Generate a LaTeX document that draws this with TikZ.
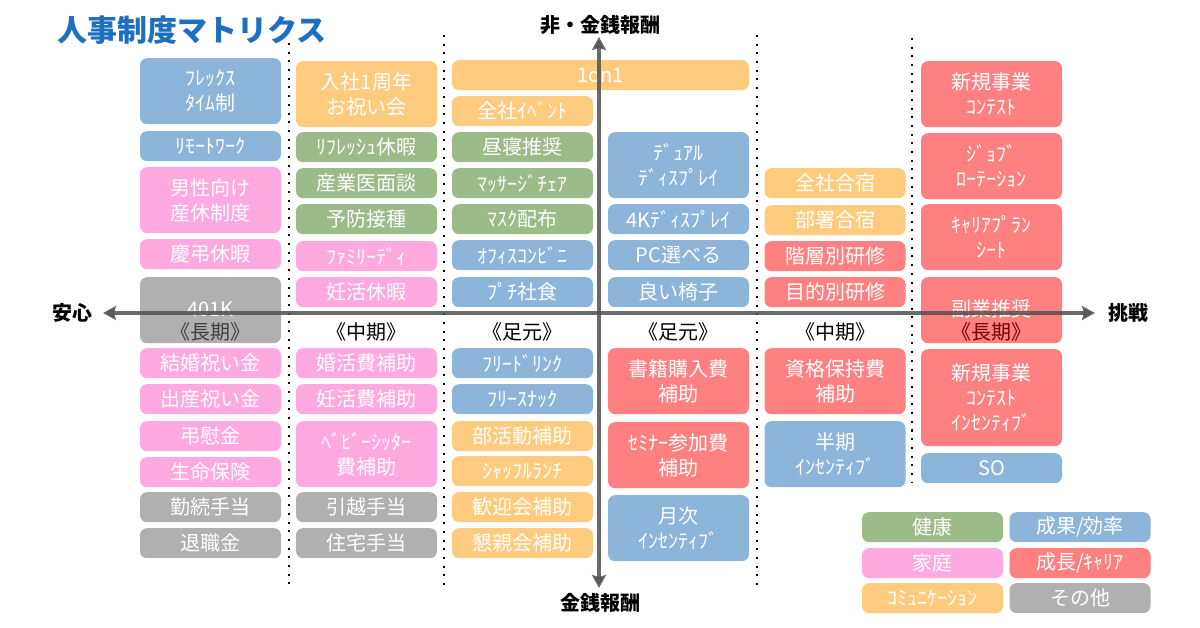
\documentclass[tikz,border=0pt]{standalone}
\usepackage{fontspec}
\setmainfont{Noto Sans CJK JP}
\usetikzlibrary{arrows.meta}

\definecolor{kenkoC}{HTML}{9BBB89}
\definecolor{kateiC}{HTML}{FFA9E1}
\definecolor{komyuC}{HTML}{FFCB7E}
\definecolor{seikaC}{HTML}{8DB5DA}
\definecolor{seichoC}{HTML}{FF8080}
\definecolor{sonotaC}{HTML}{B0B0B0}
\definecolor{axisC}{HTML}{505050}
\definecolor{titleC}{HTML}{1F6FBF}

\begin{document}
\begin{tikzpicture}[x=1pt, y=-1pt,
    box/.style={anchor=north, rounded corners=7pt, minimum width=141pt,
                minimum height=30pt, inner sep=0pt, align=center, text=white,
                font=\fontsize{20}{25}\selectfont},
    tall/.style={minimum height=66pt},
    taller/.style={minimum height=97pt},
    kenko/.style={fill=kenkoC},
    katei/.style={fill=kateiC},
    komyu/.style={fill=komyuC},
    seika/.style={fill=seikaC},
    seicho/.style={fill=seichoC},
    sonota/.style={fill=sonotaC},
    period/.style={font=\fontsize{20}{24}\selectfont, text=black},
    axlabel/.style={font=\fontsize{20}{24}\selectfont\bfseries, text=black},
    divider/.style={line width=2pt, dash pattern=on 2pt off 6.7pt},
    axis/.style={line width=3.5pt, draw=axisC, draw opacity=0.85, fill opacity=0.85,
                 {Stealth[length=13pt,width=14pt,inset=2pt]}-{Stealth[length=13pt,width=14pt,inset=2pt]}}]

    \useasboundingbox (0,0) rectangle (1200,628);

    % title
    \node (title) [anchor=west, text=titleC, font=\fontsize{30}{34}\selectfont\bfseries] at (54,30) {人事制度マトリクス};

    % dotted separators
    \foreach \x/\top/\bot in {289/43/590, 444/35/590, 757/35/590, 912/38/483}
        \draw [divider] (\x,\top) -- (\x,\bot);

    % upper half
    \node (flex)     [box, seika, tall]  at (210.5,58)  {ﾌﾚｯｸｽ\\ﾀｲﾑ制};
    \node (remote)   [box, seika]        at (210.5,131) {ﾘﾓｰﾄﾜｰｸ};
    \node (dansei)   [box, katei, tall]  at (210.5,167) {男性向け\\産休制度};
    \node (keicho)   [box, katei]        at (210.5,239) {慶弔休暇};
    \node (k401)     [box, sonota, tall] at (210.5,277) {};
    \node (k401t)    [text=white, font=\fontsize{20}{24}\selectfont] at (210.5,309) {401K};

    \node (nyusha)   [box, komyu, tall]  at (366.5,61)  {入社1周年\\お祝い会};
    \node (refresh)  [box, kenko]        at (366.5,132) {ﾘﾌﾚｯｼｭ休暇};
    \node (sangyoi)  [box, kenko]        at (366.5,168) {産業医面談};
    \node (yobo)     [box, kenko]        at (366.5,204) {予防接種};
    \node (family)   [box, katei]        at (366.5,241) {ﾌｧﾐﾘｰﾃﾞｨ};
    \node (ninkatsu) [box, katei]        at (366.5,277) {妊活休暇};

    \node (oneonone) [box, komyu, minimum width=297pt] at (600.5,60) {1on1};
    \node (zensha)   [box, komyu]        at (522.5,96)  {全社ｲﾍﾞﾝﾄ};
    \node (hirune)   [box, kenko]        at (522.5,132) {昼寝推奨};
    \node (massage)  [box, kenko]        at (522.5,168) {ﾏｯｻｰｼﾞﾁｪｱ};
    \node (mask)     [box, kenko]        at (522.5,204) {ﾏｽｸ配布};
    \node (konbini)  [box, seika]        at (522.5,240) {ｵﾌｨｽｺﾝﾋﾞﾆ};
    \node (petit)    [box, seika]        at (522.5,277) {ﾌﾟﾁ社食};

    \node (dual)     [box, seika, tall]  at (678.5,132) {ﾃﾞｭｱﾙ\\ﾃﾞｨｽﾌﾟﾚｲ};
    \node (fourk)    [box, seika]        at (678.5,204) {4Kﾃﾞｨｽﾌﾟﾚｲ};
    \node (pc)       [box, seika]        at (678.5,240) {PC選べる};
    \node (isu)      [box, seika]        at (678.5,277) {良い椅子};

    \node (gasshuku) [box, komyu]        at (835,168)   {全社合宿};
    \node (busho)    [box, komyu]        at (835,205)   {部署合宿};
    \node (kaiso)    [box, seicho]       at (835,241)   {階層別研修};
    \node (mokuteki) [box, seicho]       at (835,277)   {目的別研修};

    \node (contest)  [box, seicho, tall] at (991.5,61)  {新規事業\\ｺﾝﾃｽﾄ};
    \node (job)      [box, seicho, tall] at (991.5,133) {ｼﾞｮﾌﾞ\\ﾛｰﾃｰｼｮﾝ};
    \node (career)   [box, seicho, tall] at (991.5,204) {ｷｬﾘｱﾌﾟﾗﾝ\\ｼｰﾄ};
    \node (fukugyo)  [box, seicho, tall] at (991.5,277) {};
    \node (fukugyot) [text=white, font=\fontsize{20}{24}\selectfont] at (991.5,309) {副業推奨};

    % term labels
    \node (choki1)  [period, text=black!75] at (210.5,332) {《長期》};
    \node (chuki1)  [period] at (366.5,332) {《中期》};
    \node (ashi1)   [period] at (522.5,332) {《足元》};
    \node (ashi2)   [period] at (678.5,332) {《足元》};
    \node (chuki2)  [period] at (835,332)   {《中期》};
    \node (choki2)  [period, text=red!45!black] at (991.5,332) {《長期》};

    % lower half
    \node (kekkon)   [box, katei]        at (210.5,348) {結婚祝い金};
    \node (shussan)  [box, katei]        at (210.5,384) {出産祝い金};
    \node (choi)     [box, katei]        at (210.5,421) {弔慰金};
    \node (seimei)   [box, katei]        at (210.5,457) {生命保険};
    \node (kinzoku)  [box, sonota]       at (210.5,492) {勤続手当};
    \node (taishoku) [box, sonota]       at (210.5,528) {退職金};

    \node (konkatsu) [box, katei]        at (366.5,348) {婚活費補助};
    \node (ninkatsuh)[box, katei]        at (366.5,384) {妊活費補助};
    \node (baby)     [box, katei, tall]  at (366.5,421) {ﾍﾞﾋﾞｰｼｯﾀｰ\\費補助};
    \node (hikkoshi) [box, sonota]       at (366.5,492) {引越手当};
    \node (jutaku)   [box, sonota]       at (366.5,528) {住宅手当};

    \node (drink)    [box, seika]        at (522.5,348) {ﾌﾘｰﾄﾞﾘﾝｸ};
    \node (snack)    [box, seika]        at (522.5,384) {ﾌﾘｰｽﾅｯｸ};
    \node (bukatsu)  [box, komyu]        at (522.5,421) {部活動補助};
    \node (shuffle)  [box, komyu]        at (522.5,456) {ｼｬｯﾌﾙﾗﾝﾁ};
    \node (kangei)   [box, komyu]        at (522.5,492) {歓迎会補助};
    \node (konshin)  [box, komyu]        at (522.5,528) {懇親会補助};

    \node (shoseki)  [box, seicho, tall] at (678.5,348) {書籍購入費\\補助};
    \node (seminar)  [box, seicho, tall] at (678.5,422) {ｾﾐﾅｰ参加費\\補助};
    \node (getsuji)  [box, seika, tall]  at (678.5,495) {月次\\ｲﾝｾﾝﾃｨﾌﾞ};

    \node (shikaku)  [box, seicho, tall] at (835,348)   {資格保持費\\補助};
    \node (hanki)    [box, seika, tall]  at (835,421)   {半期\\ｲﾝｾﾝﾃｨﾌﾞ};

    \node (incent)   [box, seicho, taller] at (991.5,349) {新規事業\\ｺﾝﾃｽﾄ\\ｲﾝｾﾝﾃｨﾌﾞ};
    \node (so)       [box, seika]        at (991.5,453) {SO};

    % legend
    \node (lgKenko)  [box, kenko]        at (932.5,512) {健康};
    \node (lgSeika)  [box, seika]        at (1080,512)  {成果/効率};
    \node (lgKatei)  [box, katei]        at (932.5,548) {家庭};
    \node (lgSeicho) [box, seicho]       at (1080,548)  {成長/ｷｬﾘｱ};
    \node (lgKomyu)  [box, komyu]        at (932.5,583) {ｺﾐｭﾆｹｰｼｮﾝ};
    \node (lgSonota) [box, sonota]       at (1080,583)  {その他};

    % axes, over the boxes
    \coordinate (axW) at (103,313);
    \coordinate (axE) at (1095,313);
    \coordinate (axN) at (599,37);
    \coordinate (axS) at (599,588);
    \draw [axis] (axW) -- (axE);
    \draw [axis] (axS) -- (axN);
    \node (anshin)  [axlabel] at (72,313)   {安心};
    \node (chosen)  [axlabel] at (1128,313) {挑戦};
    \node (hikinsen)[axlabel] at (600,25)   {非・金銭報酬};
    \node (kinsen)  [axlabel] at (600,603)  {金銭報酬};
\end{tikzpicture}
\end{document}
